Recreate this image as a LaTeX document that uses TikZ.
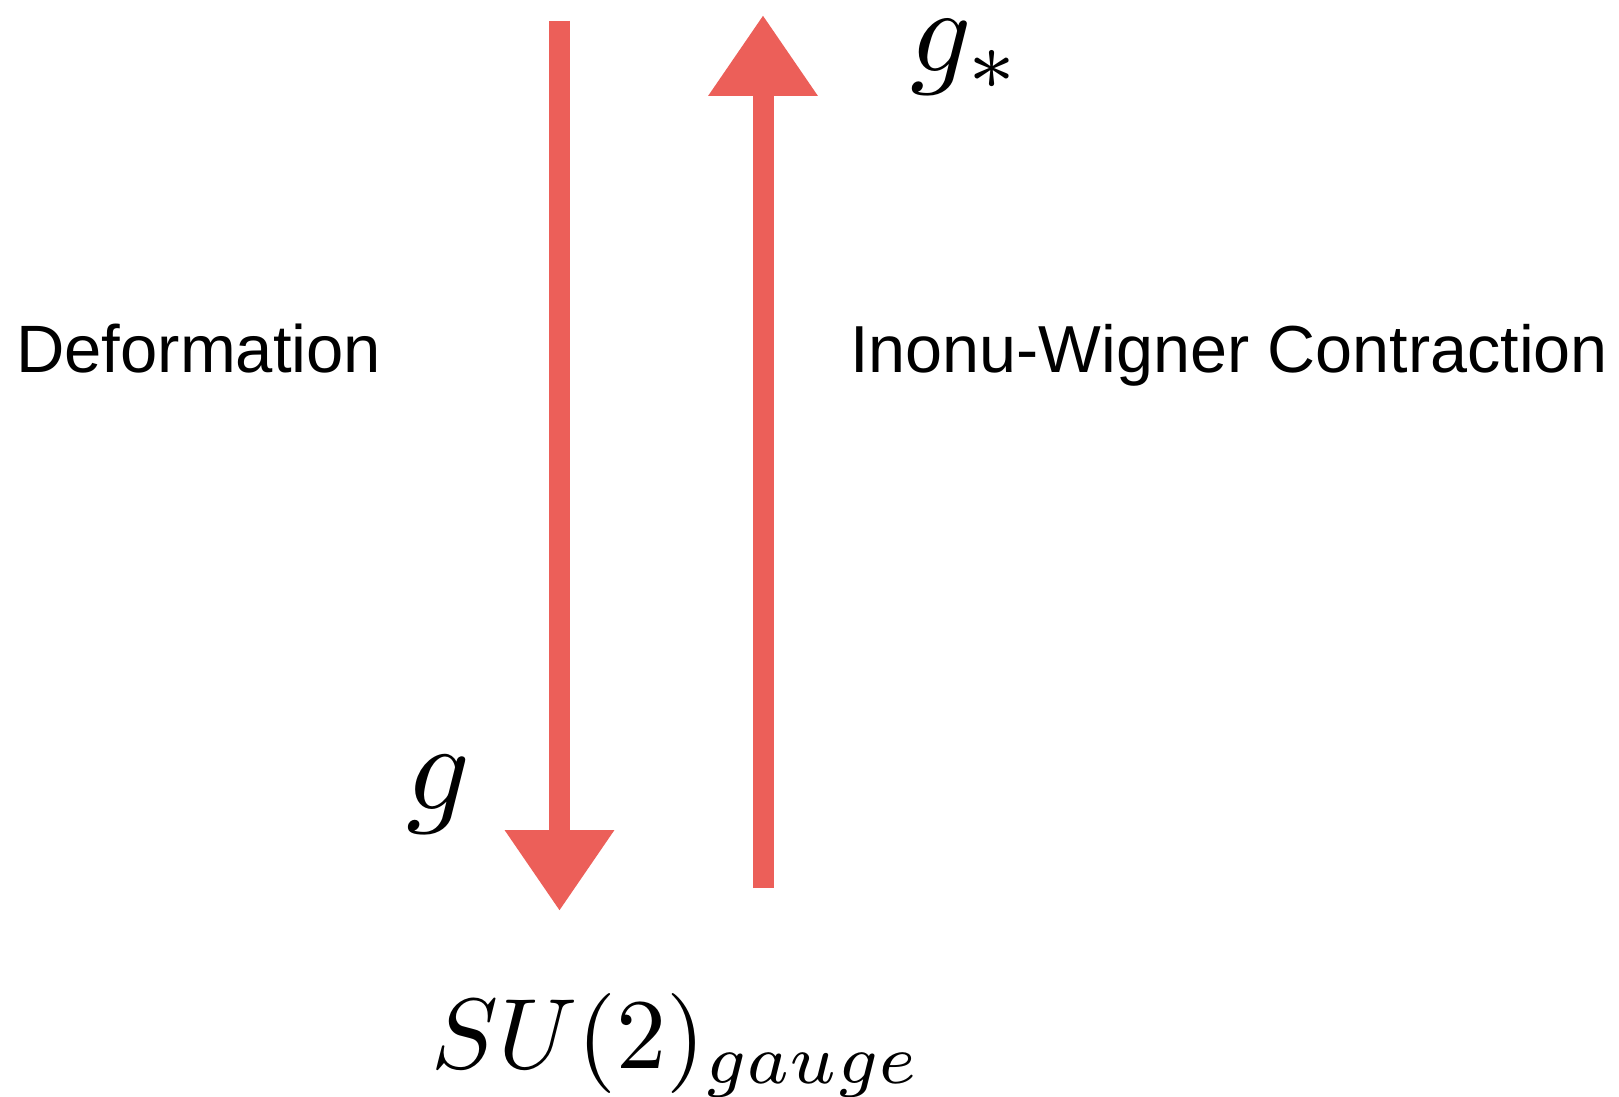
\documentclass[tikz,border=0pt]{standalone}
\usepackage{fontspec}
\newfontfamily\labelfont{Liberation Sans}
\usetikzlibrary{arrows.meta}
\definecolor{chalk}{RGB}{236,95,89}
\tikzset{
  chalkarrow/.style={draw=chalk, line width=21pt, line cap=butt,
    -{Triangle[length=81pt,width=104pt]}},
  wordlabel/.style={inner sep=0pt, font=\labelfont\fontsize{67}{70}\selectfont},
  mathlabel/.style={inner sep=0pt}
}
\begin{document}
\begin{tikzpicture}[x=1pt,y=-1pt]
\useasboundingbox[fill=white] (0,0) rectangle (1619,1097);
% endpoints of the two arrows
\coordinate (Ltop) at (559.5,21);
\coordinate (Ltip) at (559.5,911);
\coordinate (Rbot) at (763,888);
\coordinate (Rtip) at (763,15);
\draw[chalkarrow] (Ltop) -- (Ltip);
\draw[chalkarrow] (Rbot) -- (Rtip);
% labels
\node[wordlabel, anchor=base west] (deform) at (16,372) {Deformation};
\node[wordlabel, anchor=base west, font=\labelfont\fontsize{66.5}{70}\selectfont] (contract) at (850,372) {Inonu-Wigner Contraction};
\node[mathlabel, anchor=base west, scale=12] (gstar) at (908,72) {$g_*$};
\node[mathlabel, anchor=base west, scale=12.5] (g) at (404,809) {$g$};
\node[mathlabel, anchor=base west, scale=10] (su) at (429,1068) {$SU(2)_{gauge}$};
\end{tikzpicture}
\end{document}
